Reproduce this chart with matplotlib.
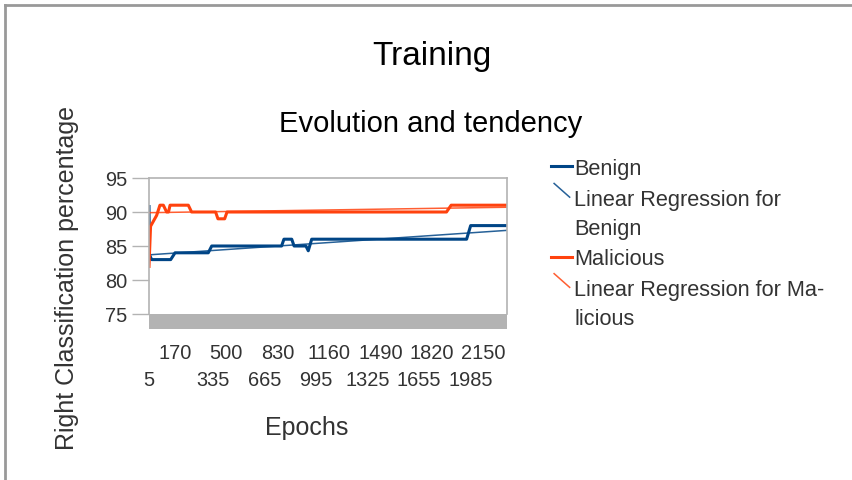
import numpy as np
import matplotlib
matplotlib.use("Agg")
import matplotlib.pyplot as plt
from matplotlib.lines import Line2D
from matplotlib.patches import Rectangle
from matplotlib.legend_handler import HandlerLine2D
from matplotlib.transforms import ScaledTranslation

plt.rcParams['font.family'] = ['Liberation Sans', 'DejaVu Sans']

# values (epoch, right classification %)
benign_epochs = [5, 8, 22, 144, 172, 385, 407, 855, 870, 920, 935, 1011, 1026, 1048, 2041, 2067, 2300]
benign_acc = [90.8, 83.7, 83, 83, 84, 84, 85, 85, 86, 86, 85, 85, 84.3, 86, 86, 88, 88]

malicious_epochs = [5, 15, 32, 54, 75, 97, 118, 130, 140, 257, 278, 432, 447, 490, 505, 1912, 1942, 2300]
malicious_acc = [82, 87.9, 88.6, 89.5, 91, 91, 90, 90, 91, 91, 90, 90, 89, 89, 90, 90, 91, 91]

trend_epochs = [5, 2300]
benign_trend = [83.7, 87.3]
malicious_trend = [89.9, 90.7]

tick_epochs = [5, 170, 335, 500, 665, 830, 995, 1160, 1325, 1490, 1655, 1820, 1985, 2150]
y_ticks = [75, 80, 85, 90, 95]

BLUE = '#004586'
RED = '#ff420e'
AXIS_GRAY = '#b3b3b3'


class HandlerDiagonal(HandlerLine2D):
    # regression entries get a slanted stroke next to the first text line
    def create_artists(self, legend, orig_handle, xdescent, ydescent,
                       width, height, fontsize, trans):
        x0 = -xdescent + 0.15 * width
        x1 = -xdescent + 0.9 * width
        line = Line2D([x0, x1], [2.5 * height - ydescent, 1.6 * height - ydescent])
        self.update_prop(line, orig_handle, legend)
        line.set_transform(trans)
        return [line]


fig = plt.figure(figsize=(8.52, 4.81), dpi=100)
ax = fig.add_axes([149 / 852, 1 - 315 / 481, 358 / 852, 136 / 481])

ax.plot(benign_epochs, benign_acc, color=BLUE, lw=2.2, label='Benign')
reg_b, = ax.plot(trend_epochs, benign_trend, color=BLUE, lw=1.1, alpha=0.85,
                 label='Linear Regression for\nBenign')
ax.plot(malicious_epochs, malicious_acc, color=RED, lw=2.2, label='Malicious')
reg_m, = ax.plot(trend_epochs, malicious_trend, color=RED, lw=1.1, alpha=0.85,
                 label='Linear Regression for Ma-\nlicious')

ax.set_xlim(5, 2300)
ax.set_ylim(75, 95)
ax.set_yticks(y_ticks)
ax.set_xticks(tick_epochs)
ax.set_xticklabels([str(t) for t in tick_epochs])
ax.tick_params(axis='y', length=12, width=1, color=AXIS_GRAY, labelsize=14.4,
               pad=3.5, labelcolor='#333333')
ax.tick_params(axis='x', length=0, labelsize=14.4, labelcolor='#333333')
# staggered category labels, lower row sits a little to the right
shift = ScaledTranslation(9 / 72, 0, fig.dpi_scale_trans)
for i, tick in enumerate(ax.xaxis.get_major_ticks()):
    tick.set_pad(21 if i % 2 else 40)
    if i % 2 == 0 and i > 0:
        tick.label1.set_transform(tick.label1.get_transform() + shift)

for side in ['left', 'top', 'right']:
    ax.spines[side].set_color(AXIS_GRAY)
    ax.spines[side].set_linewidth(1.2)
ax.spines['bottom'].set_visible(False)

# grey floor strip under the plot
ax.add_patch(Rectangle((0, -0.11), 1, 0.11, transform=ax.transAxes,
                       facecolor=AXIS_GRAY, edgecolor='none', clip_on=False))

fig.text(432 / 852, 1 - 57 / 481, 'Training', ha='center', va='center', fontsize=24)
fig.text(431 / 852, 1 - 124 / 481, 'Evolution and tendency', ha='center', va='center',
         fontsize=21)
fig.text(307 / 852, 1 - 428 / 481, 'Epochs', ha='center', va='center', fontsize=18,
         color='#333333')
fig.text(67 / 852, 1 - 278 / 481, 'Right Classification percentage', ha='center',
         va='center', rotation=90, fontsize=18, color='#333333')

leg = ax.legend(loc='upper left', bbox_to_anchor=(551 / 852, 1 - 159 / 481),
                bbox_transform=fig.transFigure, frameon=False, fontsize=15.7,
                handlelength=0.95, handletextpad=0.12, borderpad=0, borderaxespad=0,
                labelspacing=0.44,
                handler_map={reg_b: HandlerDiagonal(), reg_m: HandlerDiagonal()})
for t in leg.get_texts():
    t.set_linespacing(1.5)
    t.set_color('#333333')

# page border (top and left edges only)
fig.add_artist(Line2D([5 / 852, 1], [1 - 6 / 481, 1 - 6 / 481], color='#999999', lw=2))
fig.add_artist(Line2D([5 / 852, 5 / 852], [0, 1 - 6 / 481], color='#999999', lw=2))

fig.savefig('out.png', dpi=100)
